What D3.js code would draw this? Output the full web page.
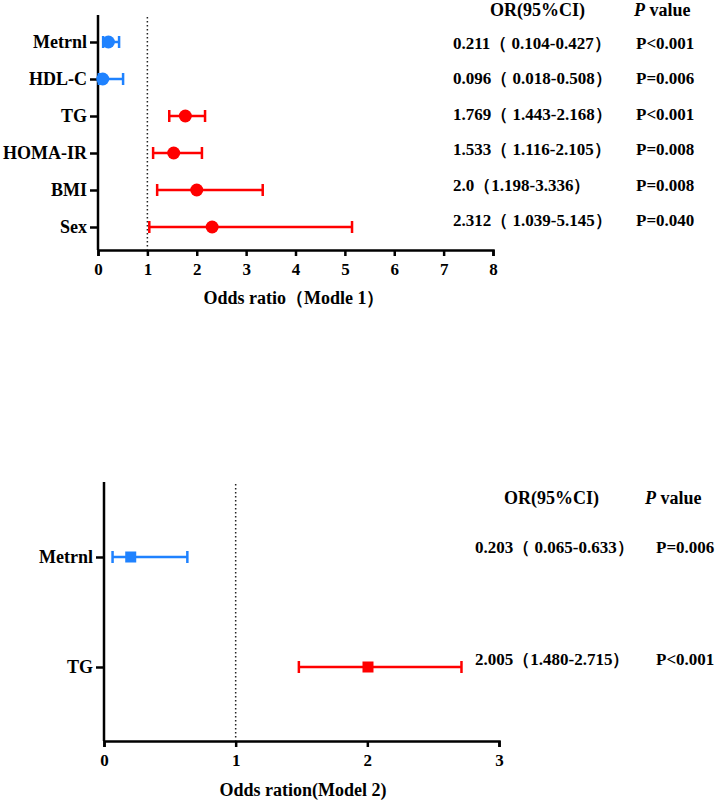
<!DOCTYPE html>
<html>
<head>
<meta charset="utf-8">
<script src="https://cdn.jsdelivr.net/npm/d3@7"></script>
<style>
  body { margin: 0; background: #fff; }
  svg { display: block; font-family: "Times New Roman", "Liberation Serif", "DejaVu Serif", serif; font-weight: bold; }
</style>
</head>
<body>
<div id="chart"></div>
<script>
// model 1 data
const vars1 = ["Metrnl", "HDL-C", "TG", "HOMA-IR", "BMI", "Sex"];
const or1 = [0.211, 0.096, 1.769, 1.533, 2.0, 2.312];
const lo1 = [0.104, 0.018, 1.443, 1.116, 1.198, 1.039];
const hi1 = [0.427, 0.508, 2.168, 2.105, 3.336, 5.145];
const ciText1 = ["0.211（ 0.104-0.427）", "0.096（ 0.018-0.508）", "1.769（ 1.443-2.168）",
    "1.533（ 1.116-2.105）", "2.0（1.198-3.336）", "2.312（ 1.039-5.145）"];
const pText1 = ["P<0.001", "P=0.006", "P<0.001", "P=0.008", "P=0.008", "P=0.040"];
const ticks1 = [0, 1, 2, 3, 4, 5, 6, 7, 8];

// model 2 data
const vars2 = ["Metrnl", "TG"];
const or2 = [0.203, 2.005];
const lo2 = [0.065, 1.480];
const hi2 = [0.633, 2.715];
const ciText2 = ["0.203（ 0.065-0.633）", "2.005（1.480-2.715）"];
const pText2 = ["P=0.006", "P<0.001"];
const ticks2 = [0, 1, 2, 3];

const blue = "#1f82ff";
const red = "#ff0000";
const serif = "'Times New Roman', 'Liberation Serif', serif";

const width = 721, height = 801;
const svg = d3.select("#chart").append("svg")
    .attr("width", width)
    .attr("height", height);

function drawForest(cfg) {
    const rows = cfg.vars.map((v, i) => ({
        name: v, or: cfg.or[i], lo: cfg.lo[i], hi: cfg.hi[i],
        ci: cfg.ciText[i], p: cfg.pText[i]
    }));

    const x = d3.scaleLinear().domain(d3.extent(cfg.ticks)).range(cfg.xRange);
    const y = d3.scalePoint().domain(cfg.vars).range(cfg.yRange);
    const yText = d3.scalePoint().domain(cfg.vars).range(cfg.textRange);

    // x axis
    const gx = svg.append("g")
        .attr("transform", `translate(0, ${cfg.axisY})`)
        .call(d3.axisBottom(x).tickValues(cfg.ticks).tickFormat(d3.format("d")).tickSize(6).tickPadding(7))
    gx.select(".domain").attr("stroke", "#000").attr("stroke-width", 2.5)
    gx.selectAll(".tick line").attr("stroke", "#000").attr("stroke-width", 2.5)
    gx.selectAll(".tick text")
        .attr("font-family", serif)
        .attr("font-weight", "bold")
        .attr("font-size", 17)
        .attr("fill", "#000")

    // y axis
    const gy = svg.append("g")
        .attr("transform", `translate(${cfg.xRange[0]}, 0)`)
        .call(d3.axisLeft(y).tickSize(8).tickSizeOuter(0).tickPadding(3))
    gy.select(".domain")
        .attr("d", `M0,${cfg.topY}V${cfg.axisY}`)
        .attr("stroke", "#000").attr("stroke-width", 2.5)
    gy.selectAll(".tick line").attr("stroke", "#000").attr("stroke-width", 2.5)
    gy.selectAll(".tick text")
        .attr("font-family", serif)
        .attr("font-weight", "bold")
        .attr("font-size", 18)
        .attr("fill", "#000")

    // reference line at OR = 1
    svg.append("line")
        .attr("x1", x(1)).attr("x2", x(1))
        .attr("y1", cfg.topY + 2).attr("y2", cfg.axisY)
        .attr("stroke", "#222")
        .attr("stroke-width", 1.5)
        .attr("stroke-dasharray", "1.5,2.5")

    // error bars
    const bars = svg.append("g").selectAll("g")
        .data(rows)
        .join("g")
        .attr("stroke", d => d.or < 1 ? blue : red)
        .attr("stroke-width", 2.5)

    bars.append("line")
        .attr("x1", d => x(d.lo)).attr("x2", d => x(d.hi))
        .attr("y1", d => y(d.name)).attr("y2", d => y(d.name))
    bars.append("line")
        .attr("x1", d => x(d.lo)).attr("x2", d => x(d.lo))
        .attr("y1", d => y(d.name) - 6).attr("y2", d => y(d.name) + 6)
    bars.append("line")
        .attr("x1", d => x(d.hi)).attr("x2", d => x(d.hi))
        .attr("y1", d => y(d.name) - 6).attr("y2", d => y(d.name) + 6)

    // point markers
    if (cfg.marker === "circle") {
        svg.append("g").selectAll("circle")
            .data(rows)
            .join("circle")
            .attr("cx", d => x(d.or))
            .attr("cy", d => y(d.name))
            .attr("r", 6.5)
            .attr("fill", d => d.or < 1 ? blue : red)
    } else {
        svg.append("g").selectAll("rect")
            .data(rows)
            .join("rect")
            .attr("x", d => x(d.or) - 5.5)
            .attr("y", d => y(d.name) - 5.5)
            .attr("width", 11).attr("height", 11)
            .attr("fill", d => d.or < 1 ? blue : red)
    }

    // axis title
    svg.append("text")
        .attr("x", cfg.titleX)
        .attr("y", cfg.titleY)
        .attr("text-anchor", "middle")
        .attr("font-size", 18)
        .text(cfg.title)

    // table headers
    svg.append("text")
        .attr("x", cfg.orHeadX)
        .attr("y", cfg.headY)
        .attr("font-size", 18)
        .text("OR(95%CI)")
    const ph = svg.append("text")
        .attr("x", cfg.pHeadX)
        .attr("y", cfg.headY)
        .attr("font-size", 18)
    ph.append("tspan").attr("font-style", "italic").text("P")
    ph.append("tspan").text(" value")

    // table rows
    svg.append("g").selectAll("text.ci")
        .data(rows)
        .join("text")
        .attr("class", "ci")
        .attr("x", cfg.ciX)
        .attr("y", d => yText(d.name) + 6)
        .attr("font-size", 17)
        .text(d => d.ci)
    svg.append("g").selectAll("text.p")
        .data(rows)
        .join("text")
        .attr("class", "p")
        .attr("x", cfg.pX)
        .attr("y", d => yText(d.name) + 6)
        .attr("font-size", 17)
        .text(d => d.p)
}

drawForest({
    vars: vars1, or: or1, lo: lo1, hi: hi1, ciText: ciText1, pText: pText1, ticks: ticks1,
    xRange: [98, 493], yRange: [42, 227], textRange: [43, 220],
    topY: 15, axisY: 250, marker: "circle",
    title: "Odds ratio（Modle 1）", titleX: 294, titleY: 304,
    orHeadX: 490, pHeadX: 634, headY: 16, ciX: 453, pX: 636
})

drawForest({
    vars: vars2, or: or2, lo: lo2, hi: hi2, ciText: ciText2, pText: pText2, ticks: ticks2,
    xRange: [104, 499], yRange: [557, 667], textRange: [547, 659],
    topY: 482, axisY: 741, marker: "square",
    title: "Odds ration(Model 2)", titleX: 303, titleY: 796,
    orHeadX: 504, pHeadX: 645, headY: 504, ciX: 475, pX: 656
})
</script>
</body>
</html>
